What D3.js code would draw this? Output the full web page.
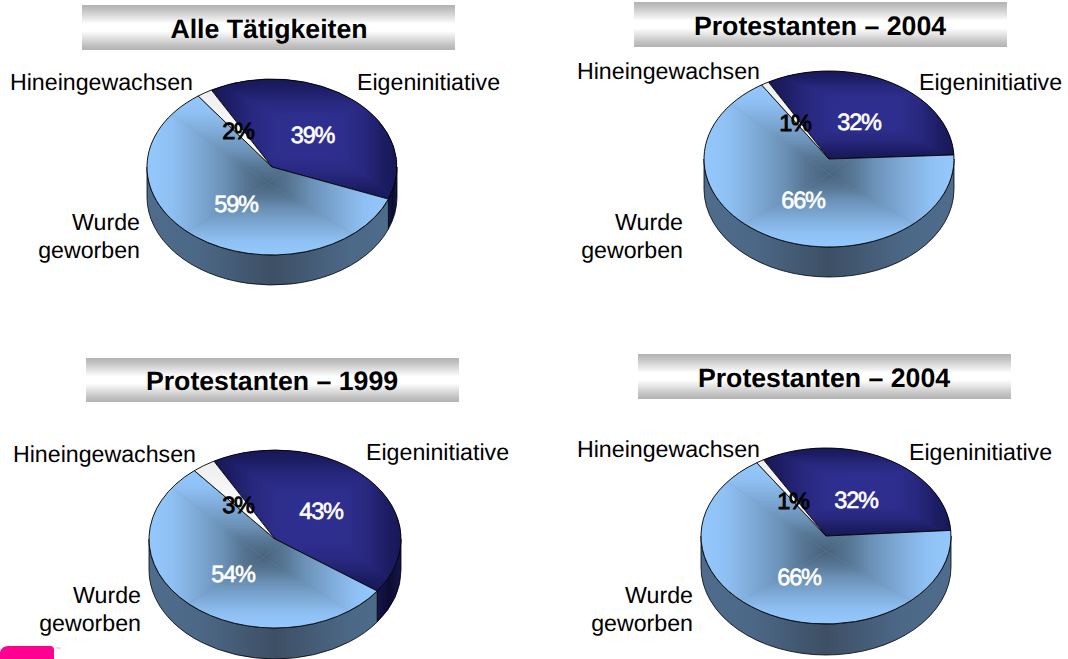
<!DOCTYPE html>
<html><head><meta charset="utf-8">
<script src="https://cdn.jsdelivr.net/npm/d3@7/dist/d3.min.js"></script>
<style>html,body{margin:0;padding:0;background:#fff;overflow:hidden}svg{display:block}text{font-family:"Liberation Sans",Arial,sans-serif;text-rendering:geometricPrecision}</style>
</head><body><svg id="c" width="1068" height="659"></svg>
<script>
// data
const categories = ["Eigeninitiative", "Wurde geworben", "Hineingewachsen"];
const chartTitles = ["Alle Tätigkeiten", "Protestanten – 2004", "Protestanten – 1999", "Protestanten – 2004"];
const valuesAlle = [39, 59, 2];
const valuesPanel2 = [32, 66, 1];
const values1999 = [43, 54, 3];
const values2004 = [32, 66, 1];
const seriesValues = [valuesAlle, valuesPanel2, values1999, values2004];

// layout (separate from data)
const panels = [
 {cx:272,cy:167,rx:125,ry:88,depth:30,start:-29,bar:[82,5,373,45],tb:[269,38],
  hine:[193,90],eigen:[357,90],wurde:[140,230],pct:[[312.5,143],[236,212],[238,139]]},
 {cx:829,cy:159,rx:125,ry:88,depth:30,start:-29,bar:[634,2,373,45],tb:[820,35],
  hine:[760,79],eigen:[919,90],wurde:[683,230],pct:[[859,130],[803,208],[795,131]]},
 {cx:275,cy:539,rx:126,ry:89,depth:31,start:-29,bar:[86,358,373,44],tb:[272,390],
  hine:[196,462],eigen:[366,460],wurde:[141,603],pct:[[321,519],[233,582],[238,513]]},
 {cx:826,cy:536,rx:125,ry:88,depth:31,start:-30,bar:[638,354,373,45],tb:[824,387],
  hine:[760,457],eigen:[909,460],wurde:[693,603],pct:[[856,508],[799,585],[793,509]]}
];
const topStops = [
 {base:"#24247a",focus:[.54,.47],stops:[[0,"#2f2f92"],[.35,"#2e2e8e"],[.6,"#28287f"],[.85,"#1c1c63"],[1,"#181856"]]},
 {base:"#6f97bf",focus:[.5,.55],stops:[[0,"#48627c"],[.2,"#587896"],[.35,"#6a90b5"],[.55,"#7ba6d2"],[.8,"#8fc0f3"],[1,"#94c8fd"]]},
 {base:"#f6f6f6",focus:[.75,.8],stops:[[0,"#ffffff"],[1,"#eeeeee"]]}
];
const wallStops = [
 [[0,"#15154d"],[.5,"#0c0c30"],[1,"#15154d"]],
 [[0,"#4f6c8c"],[.2,"#4c6887"],[.5,"#3d4f64"],[.8,"#4c6887"],[1,"#4f6c8c"]],
 [[0,"#dddddd"],[1,"#cccccc"]]
];

const svg = d3.select("#c");
const defs = svg.append("defs");
function addGrad(id, x1,y1,x2,y2, stops){
  const g = defs.append("linearGradient").attr("id",id).attr("gradientUnits","userSpaceOnUse")
    .attr("x1",x1).attr("y1",y1).attr("x2",x2).attr("y2",y2);
  stops.forEach(s=>g.append("stop").attr("offset",s[0]).attr("stop-color",s[1]));
}
const barGrad = defs.append("linearGradient").attr("id","bar").attr("x1",0).attr("y1",0).attr("x2",0).attr("y2",1);
[[0,"#b2b2b2"],[.12,"#c4c4c4"],[.42,"#ffffff"],[.58,"#ffffff"],[.88,"#c4c4c4"],[1,"#b2b2b2"]]
  .forEach(s=>barGrad.append("stop").attr("offset",s[0]).attr("stop-color",s[1]));

seriesValues.forEach((vals,pi)=>{
  const P = panels[pi];
  const g = svg.append("g");
  const a0 = P.start*Math.PI/180;
  const arcs = d3.pie().sort(null).startAngle(a0).endAngle(a0+2*Math.PI)(vals);
  const px = t => P.cx + P.rx*Math.sin(t);
  const py = t => P.cy - P.ry*Math.cos(t);
  const arcGen = d3.arc().innerRadius(0).outerRadius(P.rx);
  const toEllipse = `translate(${P.cx},${P.cy}) scale(1,${P.ry/P.rx})`;

  // title bar
  g.append("rect").attr("x",P.bar[0]).attr("y",P.bar[1]).attr("width",P.bar[2]).attr("height",P.bar[3]).attr("fill","url(#bar)");
  g.append("text").attr("x",P.tb[0]).attr("y",P.tb[1]).attr("text-anchor","middle")
    .attr("font-size",26.7).attr("font-weight","bold").attr("fill","#000").text(chartTitles[pi]);

  // side wall, front half only
  arcs.forEach((d,i)=>{
    const s = Math.max(d.startAngle,Math.PI/2), e = Math.min(d.endAngle,3*Math.PI/2);
    if(e<=s) return;
    const id=`w${pi}_${i}`;
    const xs = [px(s),px(e)];
    addGrad(id, i===1?P.cx-P.rx:Math.min(...xs),0, i===1?P.cx+P.rx:Math.max(...xs),0, wallStops[i]);
    g.append("path").attr("fill",`url(#${id})`).attr("stroke","#000").attr("stroke-width",.8)
     .attr("d",`M${px(s)},${py(s)}A${P.rx},${P.ry} 0 0 1 ${px(e)},${py(e)}L${px(e)},${py(e)+P.depth}A${P.rx},${P.ry} 0 0 0 ${px(s)},${py(s)+P.depth}Z`);
  });

  // top slices with a rectangular path gradient
  arcs.forEach((d,i)=>{
    const ts = d3.range(0,41).map(k=>d.startAngle+(d.endAngle-d.startAngle)*k/40);
    const xs = ts.map(px).concat(P.cx), ys = ts.map(py).concat(P.cy);
    const x0=d3.min(xs),x1=d3.max(xs),y0=d3.min(ys),y1=d3.max(ys);
    const T = topStops[i];
    const fx=x0+(x1-x0)*T.focus[0], fy=y0+(y1-y0)*T.focus[1];
    const clip=`cl${pi}_${i}`;
    const dPath = arcGen({startAngle:d.startAngle,endAngle:d.endAngle});
    defs.append("clipPath").attr("id",clip).append("path").attr("d",dPath).attr("transform",toEllipse);
    const sl = g.append("g").attr("clip-path",`url(#${clip})`);
    sl.append("rect").attr("x",x0).attr("y",y0).attr("width",x1-x0).attr("height",y1-y0).attr("fill",T.base);
    const tris = [
      {c:[[x0,y0],[x1,y0]],to:[fx,y0]},
      {c:[[x1,y0],[x1,y1]],to:[x1,fy]},
      {c:[[x1,y1],[x0,y1]],to:[fx,y1]},
      {c:[[x0,y1],[x0,y0]],to:[x0,fy]}
    ];
    tris.forEach((t,k)=>{
      const id=`t${pi}_${i}_${k}`;
      addGrad(id,fx,fy,t.to[0],t.to[1],T.stops);
      sl.append("path").attr("d",`M${fx},${fy}L${t.c[0]}L${t.c[1]}Z`).attr("fill",`url(#${id})`);
    });
    g.append("path").attr("d",dPath).attr("transform",toEllipse).attr("fill","none")
      .attr("stroke","#000").attr("stroke-width",.9).attr("vector-effect","non-scaling-stroke");
  });

  // category labels
  const lab=(x,y,anchor,t)=>g.append("text").attr("x",x).attr("y",y).attr("text-anchor",anchor)
     .attr("font-size",23.2).attr("fill","#000").text(t);
  lab(P.hine[0],P.hine[1],"end",categories[2]);
  lab(P.eigen[0],P.eigen[1],"start",categories[0]);
  const w = categories[1].split(" ");
  lab(P.wurde[0],P.wurde[1],"end",w[0]);
  lab(P.wurde[0],P.wurde[1]+28,"end",w[1]);

  // percent labels
  vals.forEach((v,i)=>{
    const col = i===2?"#000":"#fff";
    g.append("text").attr("x",P.pct[i][0]).attr("y",P.pct[i][1]).attr("text-anchor","middle")
      .attr("font-size",23.5).attr("letter-spacing",-1.2).attr("fill",col).attr("stroke",col).attr("stroke-width",i===2?.9:.6)
      .text(d3.format("d")(v)+"%");
  });
});

// logo fragment
const logo = svg.append("g");
logo.append("path").attr("d","M0,652Q2,646 8,646L50,646Q54,646 54,650L54,659L0,659Z").attr("fill","#ff0090");
logo.append("text").attr("x",55).attr("y",651).attr("font-size",6).attr("fill","#f3a6d0").text("™");
</script></body></html>
